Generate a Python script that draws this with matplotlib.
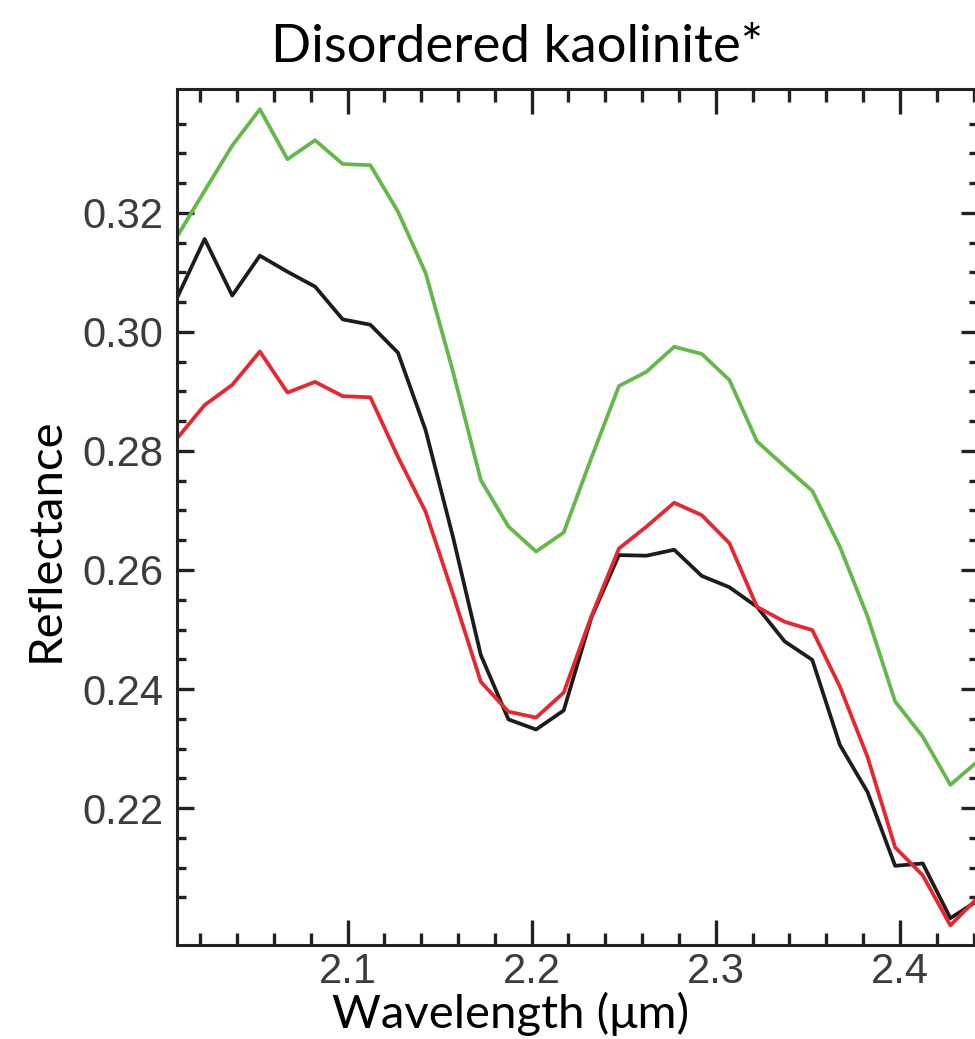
import matplotlib
matplotlib.use("Agg")
import matplotlib.pyplot as plt
from matplotlib.ticker import FixedLocator

# wavelength (um) and reflectance for the three spectra
wavelength = [2.0074, 2.0224, 2.0374, 2.0524, 2.0674, 2.0824, 2.0974, 2.1124, 2.1274, 2.1424,
              2.1574, 2.1724, 2.1874, 2.2024, 2.2174, 2.2324, 2.2474, 2.2624, 2.2774, 2.2924,
              2.3074, 2.3224, 2.3374, 2.3524, 2.3674, 2.3824, 2.3974, 2.4124, 2.4274, 2.4424]
green = [0.3160, 0.3237, 0.3313, 0.3374, 0.3290, 0.3322, 0.3282, 0.3280, 0.3202, 0.3099,
         0.2932, 0.2751, 0.2673, 0.2631, 0.2663, 0.2788, 0.2909, 0.2933, 0.2975, 0.2963,
         0.2919, 0.2816, 0.2774, 0.2733, 0.2639, 0.2522, 0.2379, 0.2320, 0.2239, 0.2279]
black = [0.3057, 0.3156, 0.3061, 0.3128, 0.3101, 0.3076, 0.3021, 0.3012, 0.2965, 0.2835,
         0.2654, 0.2457, 0.2349, 0.2332, 0.2364, 0.2520, 0.2625, 0.2624, 0.2634, 0.2590,
         0.2571, 0.2538, 0.2480, 0.2449, 0.2306, 0.2227, 0.2103, 0.2107, 0.2015, 0.2045]
red = [0.2821, 0.2877, 0.2911, 0.2967, 0.2898, 0.2916, 0.2892, 0.2890, 0.2790, 0.2698,
       0.2558, 0.2412, 0.2362, 0.2352, 0.2394, 0.2522, 0.2636, 0.2673, 0.2713, 0.2692,
       0.2645, 0.2538, 0.2513, 0.2499, 0.2404, 0.2286, 0.2134, 0.2087, 0.2003, 0.2050]

x_major = [2.1, 2.2, 2.3, 2.4]
x_minor = [2.02, 2.04, 2.06, 2.08, 2.12, 2.14, 2.16, 2.18, 2.22, 2.24, 2.26, 2.28,
           2.32, 2.34, 2.36, 2.38, 2.42, 2.44]
y_major = [0.22, 0.24, 0.26, 0.28, 0.30, 0.32]
y_minor = [0.205, 0.21, 0.215, 0.225, 0.23, 0.235, 0.245, 0.25, 0.255, 0.265, 0.27, 0.275,
           0.285, 0.29, 0.295, 0.305, 0.31, 0.315, 0.325, 0.33, 0.335]

W, H = 975, 1039
fig = plt.figure(figsize=(W / 100, H / 100), dpi=100)
ax = fig.add_axes([177 / W, 94 / H, (978 - 177) / W, (945 - 89) / H])

lw = 2.7
ax.plot(wavelength, green, color="#62b848", lw=lw)
ax.plot(wavelength, black, color="#1c1c1c", lw=lw)
ax.plot(wavelength, red, color="#e8262e", lw=lw)

ax.set_xlim(2.0074, 2.4424)
ax.set_ylim(0.1970, 0.3408)

ax.xaxis.set_major_locator(FixedLocator(x_major))
ax.xaxis.set_minor_locator(FixedLocator(x_minor))
ax.yaxis.set_major_locator(FixedLocator(y_major))
ax.yaxis.set_minor_locator(FixedLocator(y_minor))
ax.set_xticklabels(["2.1", "2.2", "2.3", "2.4"])
ax.set_yticklabels(["%.2f" % v for v in y_major])

for s in ax.spines.values():
    s.set_color("#222222"); s.set_linewidth(2.2)
ax.tick_params(axis="both", which="both", direction="in", top=True, right=True,
               color="#222222", width=2.4, labelcolor="#3c3c3c")
ax.tick_params(axis="x", which="major", length=18, pad=5, labelsize=30)
ax.tick_params(axis="x", which="minor", length=9)
ax.tick_params(axis="y", which="major", length=12, pad=10, labelsize=30)
ax.tick_params(axis="y", which="minor", length=6.5)
for lab in ax.get_xticklabels() + ax.get_yticklabels():
    lab.set_family(["Liberation Sans", "DejaVu Sans"])

tfont = ["Lato", "DejaVu Sans"]
fig.text(517 / W, 1 - 62 / H, "Disordered kaolinite*", ha="center", va="baseline",
         fontsize=38, family=tfont, color="black")
fig.text(511 / W, 1 - 1028 / H, "Wavelength (\u03bcm)", ha="center", va="baseline",
         fontsize=34, family=tfont, color="black")
fig.text(46 / W, 1 - 540 / H, "Reflectance", ha="center", va="center", rotation=90,
         fontsize=34, family=tfont, color="black")

fig.savefig("out.png", dpi=100)
